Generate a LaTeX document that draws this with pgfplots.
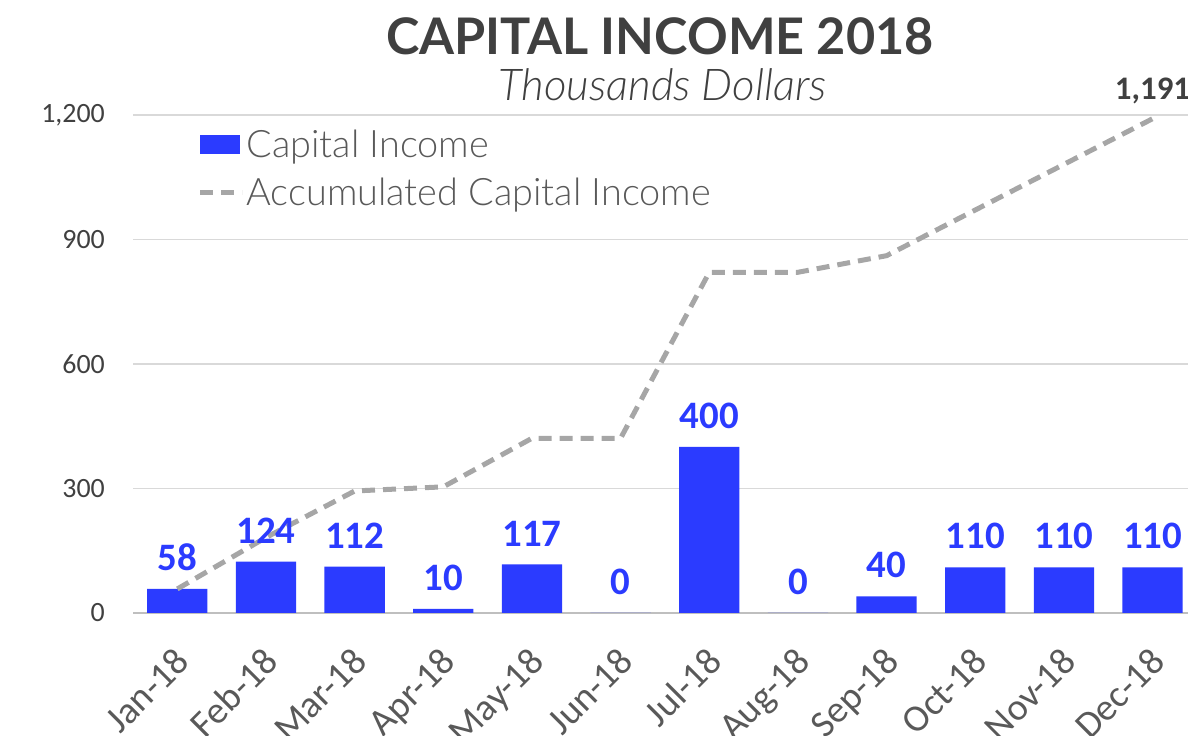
\documentclass[border=0pt]{standalone}
\usepackage{fontspec}
\setmainfont{Carlito}
\newfontfamily\titlefont{Lato}
\newfontfamily\lightfont{Lato Light}
\usepackage{pgfplots}
\pgfplotsset{compat=1.18}

\definecolor{barblue}{HTML}{2B3BFF}
\definecolor{linegray}{HTML}{A6A6A6}
\definecolor{txtgray}{HTML}{595959}
\definecolor{gridgray}{HTML}{D9D9D9}
\definecolor{axisgray}{HTML}{BFBFBF}
\definecolor{titlegray}{HTML}{404040}

\pgfplotstableread{
x inc acc
0 58 58
1 124 182
2 112 294
3 10 304
4 117 421
5 0 421
6 400 821
7 0 821
8 40 861
9 110 971
10 110 1081
11 110 1191
}\capdata

\begin{document}
\begin{tikzpicture}
\begin{axis}[
    scale only axis,
    width=1055bp, height=498bp,
    xmin=-0.5, xmax=11.4,
    ymin=0, ymax=1200,
    clip mode=individual,
    axis line style={draw=none},
    major tick length=0pt,
    ymajorgrids=true,
    grid style={gridgray, line width=1.5bp},
    ytick={0,300,600,900,1200},
    extra y ticks={0},
    extra y tick labels={},
    extra y tick style={grid style={axisgray, line width=2bp}},
    xtick={0,...,11},
    xticklabels={Jan-18,Feb-18,Mar-18,Apr-18,May-18,Jun-18,Jul-18,Aug-18,Sep-18,Oct-18,Nov-18,Dec-18},
    /pgf/number format/assume math mode=true,
    /pgf/number format/1000 sep={,},
    yticklabel style={font=\fontsize{28}{32}\selectfont, text=titlegray, inner sep=0pt, xshift=-28bp},
    xticklabel style={font=\fontsize{38}{42}\selectfont, text=txtgray, rotate=45, anchor=north east,
        inner sep=0pt, xshift=-26bp, yshift=-20bp},
    legend style={at={(rel axis cs:0.061,0.975)}, anchor=north west, draw=none, fill=none,
        font=\lightfont\fontsize{38}{44}\selectfont, text=txtgray,
        row sep=15bp, inner sep=0pt},
    legend cell align=left,
]
\addplot[ybar, bar width=0.68, fill=barblue, draw=none,
    legend image code/.code={\fill[barblue] (0bp,-9.5bp) rectangle (40bp,9.5bp);}]
    table[x=x, y=inc]{\capdata};
\addlegendentry{Capital Income}

\addplot[linegray, line width=5bp, dash pattern=on 13bp off 8bp, no marks,
    legend image code/.code={\draw[linegray, line width=5bp, dash pattern=on 13bp off 8bp] (0bp,0bp) -- (42bp,0bp);}]
    table[x=x, y=acc]{\capdata};
\addlegendentry{Accumulated Capital Income}

% data labels drawn over the line
\addplot[draw=none, no marks, forget plot,
    nodes near coords,
    nodes near coords style={font=\bfseries\fontsize{39}{44}\selectfont, text=barblue, anchor=south, inner sep=0pt, yshift=18bp}]
    table[x=x, y=inc]{\capdata};

\node[anchor=base, inner sep=0pt, font=\bfseries\fontsize{33}{38}\selectfont, text=titlegray]
    at (axis cs:11,1191) [yshift=19bp] {1,191};

\node[anchor=base, inner sep=0pt, font=\titlefont\bfseries\fontsize{50.6}{56}\selectfont, text=titlegray]
    at (rel axis cs:0.4995,1.1205) {CAPITAL INCOME 2018};
\node[anchor=base, inner sep=0pt, font=\lightfont\itshape\fontsize{44}{48}\selectfont, text=titlegray]
    at (rel axis cs:0.502,1.030) {Thousands Dollars};

\coordinate (bbl) at (rel axis cs:-0.12607,-0.24699);
\coordinate (btr) at (rel axis cs:1,1.23092);
\end{axis}
\pgfresetboundingbox
\clip (bbl) rectangle (btr);
\useasboundingbox (bbl) rectangle (btr);
\end{tikzpicture}
\end{document}
